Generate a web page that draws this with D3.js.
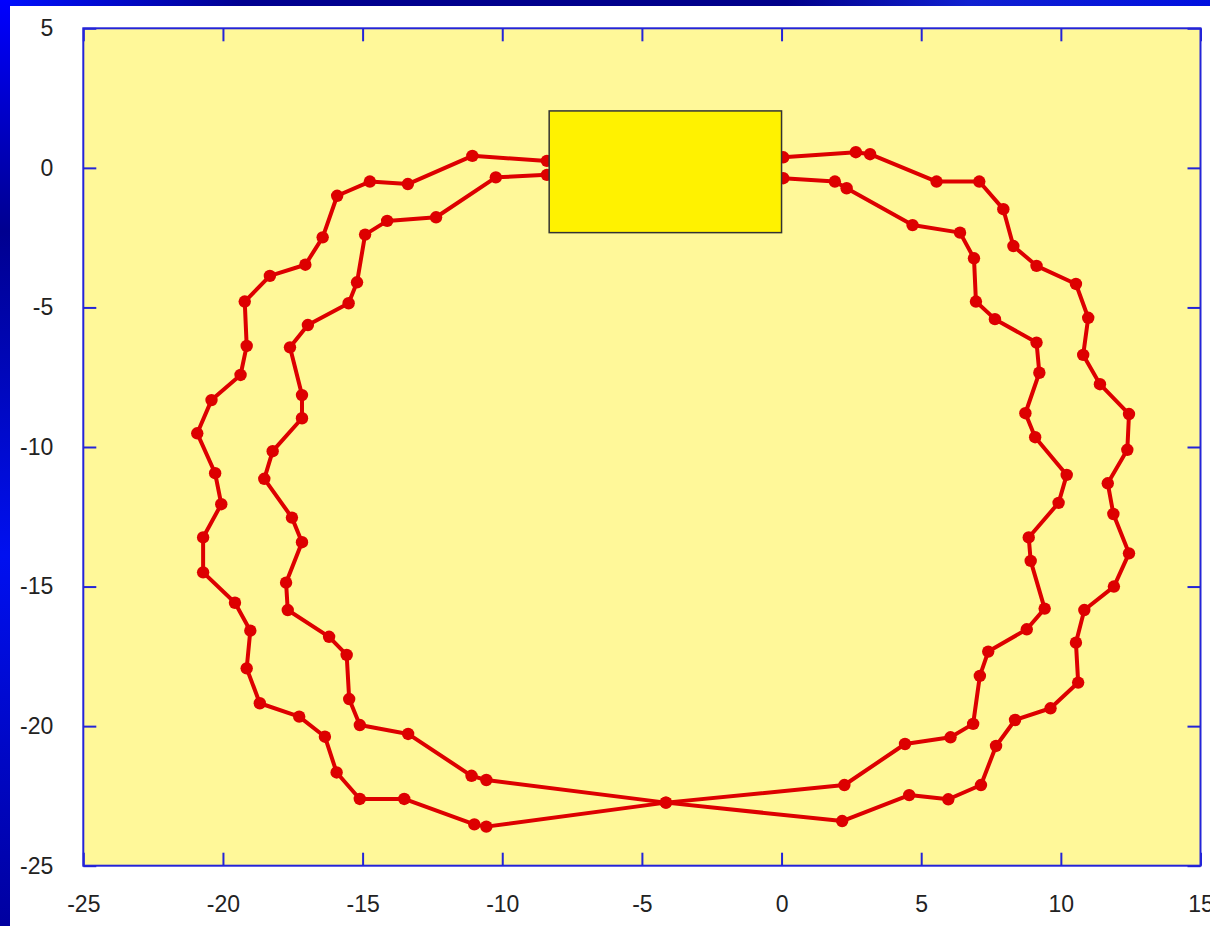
<!DOCTYPE html>
<html>
<head>
<meta charset="utf-8">
<script src="https://cdn.jsdelivr.net/npm/d3@7"></script>
<style>
  body { margin: 0; background: #fff; }
  svg { display: block; }
</style>
</head>
<body>
<svg id="chart" width="1210" height="926"></svg>
<script>
// path 1: leaves the box on the upper-left, crosses at the bottom, comes back lower-right
const pathA = [
  [-8.4, 0.25], [-11.07, 0.43], [-13.38, -0.58], [-14.74, -0.49], [-15.91, -1.0],
  [-16.43, -2.49], [-17.05, -3.47], [-18.32, -3.87], [-19.22, -4.79], [-19.15, -6.38],
  [-19.37, -7.42], [-20.41, -8.32], [-20.92, -9.51], [-20.28, -10.94], [-20.06, -12.05],
  [-20.71, -13.24], [-20.71, -14.49], [-19.57, -15.58], [-19.02, -16.58], [-19.15, -17.93],
  [-18.68, -19.18], [-17.27, -19.66], [-16.35, -20.38], [-15.93, -21.66], [-15.1, -22.61],
  [-13.51, -22.61], [-11.0, -23.52], [-10.57, -23.6], [-4.14, -22.74],
  [2.25, -22.11], [4.42, -20.64], [6.05, -20.4], [6.86, -19.92], [7.1, -18.2],
  [7.4, -17.33], [8.78, -16.53], [9.42, -15.79], [8.92, -14.08], [8.85, -13.24],
  [9.92, -12.0], [10.21, -11.0], [9.08, -9.65], [8.73, -8.79], [9.23, -7.34],
  [9.13, -6.26], [7.64, -5.42], [6.96, -4.79], [6.89, -3.24], [6.39, -2.32],
  [4.69, -2.05], [2.33, -0.73], [1.91, -0.49], [0.06, -0.37]
];

// path 2: leaves the box on the lower-left, crosses, comes back upper-right
const pathB = [
  [-8.4, -0.25], [-10.23, -0.34], [-12.37, -1.77], [-14.12, -1.9], [-14.91, -2.39],
  [-15.2, -4.1], [-15.5, -4.85], [-16.96, -5.63], [-17.6, -6.43], [-17.17, -8.14],
  [-17.17, -8.97], [-18.22, -10.15], [-18.52, -11.14], [-17.53, -12.53], [-17.17, -13.41],
  [-17.74, -14.86], [-17.68, -15.84], [-16.2, -16.8], [-15.57, -17.45], [-15.48, -19.03],
  [-15.1, -19.96], [-13.37, -20.28], [-11.1, -21.78], [-10.57, -21.93], [-4.14, -22.74],
  [2.17, -23.4], [4.57, -22.47], [5.97, -22.62], [7.14, -22.11], [7.68, -20.71],
  [8.36, -19.78], [9.63, -19.36], [10.62, -18.44], [10.54, -17.01], [10.84, -15.84],
  [11.9, -15.0], [12.44, -13.81], [11.88, -12.4], [11.68, -11.3], [12.38, -10.1],
  [12.44, -8.82], [11.4, -7.75], [10.8, -6.7], [10.98, -5.37], [10.54, -4.16],
  [9.13, -3.51], [8.3, -2.8], [7.94, -1.48], [7.08, -0.49], [5.55, -0.49],
  [3.17, 0.49], [2.66, 0.56], [0.06, 0.38]
];

const box = { x0: -8.32, x1: 0, y0: -2.32, y1: 2.04 };

const xTicks = [-25, -20, -15, -10, -5, 0, 5, 10, 15];
const yTicks = [5, 0, -5, -10, -15, -20, -25];

const RED = "#dd0000";
const FRAME = "#2424d8";

const svg = d3.select("#chart");
const width = 1210;
const height = 926;

// slide decoration: blue bars along the left and top
const defs = svg.append("defs");
const gTop = defs.append("linearGradient").attr("id", "topbar");
gTop.append("stop").attr("offset", "0%").attr("stop-color", "#0010ff");
gTop.append("stop").attr("offset", "20%").attr("stop-color", "#000090");
gTop.append("stop").attr("offset", "65%").attr("stop-color", "#00008a");
gTop.append("stop").attr("offset", "80%").attr("stop-color", "#1020d0");
gTop.append("stop").attr("offset", "100%").attr("stop-color", "#0010e0");
const gLeft = defs.append("linearGradient").attr("id", "leftbar")
  .attr("x1", 0).attr("y1", 0).attr("x2", 0).attr("y2", 1);
gLeft.append("stop").attr("offset", "0%").attr("stop-color", "#0000ff");
gLeft.append("stop").attr("offset", "25%").attr("stop-color", "#000090");
gLeft.append("stop").attr("offset", "60%").attr("stop-color", "#0010f0");
gLeft.append("stop").attr("offset", "100%").attr("stop-color", "#0000a0");

svg.append("rect").attr("x", 0).attr("y", 0).attr("width", width).attr("height", 6)
  .attr("fill", "url(#topbar)");
svg.append("rect").attr("x", 0).attr("y", 0).attr("width", 10).attr("height", height)
  .attr("fill", "url(#leftbar)");

const margin = { left: 83.3, top: 28.3, right: 1210 - 1200.5, bottom: 926 - 865.7 };
const x = d3.scaleLinear().domain([-25, 15]).range([margin.left, width - margin.right]);
const y = d3.scaleLinear().domain([-25, 5]).range([height - margin.bottom, margin.top]);

svg.append("rect")
  .attr("x", x(-25)).attr("y", y(5))
  .attr("width", x(15) - x(-25)).attr("height", y(-25) - y(5))
  .attr("fill", "#fff899");

// axes with ticks pointing inwards; plain hyphen for negatives like the original
const fmt = (d) => String(d);
const styleAxis = (g) => {
  g.select(".domain").remove();
  g.selectAll(".tick line").attr("stroke", FRAME).attr("stroke-width", 2);
  g.selectAll(".tick text")
    .attr("fill", "#222")
    .style("font-family", "'Liberation Sans', Arial, sans-serif")
    .style("font-size", "23px");
};

svg.append("g")
  .attr("transform", `translate(0,${y(-25)})`)
  .call(d3.axisBottom(x).tickValues(xTicks).tickFormat(fmt)
    .tickSizeInner(-13).tickSizeOuter(0).tickPadding(30))
  .call(styleAxis);

svg.append("g")
  .attr("transform", `translate(${x(-25)},0)`)
  .call(d3.axisLeft(y).tickValues(yTicks).tickFormat(fmt)
    .tickSizeInner(-13).tickSizeOuter(0).tickPadding(30))
  .call(styleAxis);

// mirrored ticks on the top and right edges
svg.append("g")
  .attr("transform", `translate(0,${y(5)})`)
  .call(d3.axisTop(x).tickValues(xTicks).tickSizeInner(-13).tickSizeOuter(0).tickFormat(""))
  .call(styleAxis);

svg.append("g")
  .attr("transform", `translate(${x(15)},0)`)
  .call(d3.axisRight(y).tickValues(yTicks).tickSizeInner(-13).tickSizeOuter(0).tickFormat(""))
  .call(styleAxis);

const line = d3.line().x((d) => x(d[0])).y((d) => y(d[1]));

const paths = svg.append("g");
[pathA, pathB].forEach((pts) => {
  paths.append("path")
    .datum(pts)
    .attr("d", line)
    .attr("fill", "none")
    .attr("stroke", RED)
    .attr("stroke-width", 4)
    .attr("stroke-linejoin", "round");

  paths.append("g")
    .selectAll("circle")
    .data(pts)
    .join("circle")
    .attr("cx", (d) => x(d[0]))
    .attr("cy", (d) => y(d[1]))
    .attr("r", 6.2)
    .attr("fill", RED);
});

svg.append("rect")
  .attr("x", x(box.x0)).attr("y", y(box.y1))
  .attr("width", x(box.x1) - x(box.x0))
  .attr("height", y(box.y0) - y(box.y1))
  .attr("fill", "#fff200")
  .attr("stroke", "#333")
  .attr("stroke-width", 1.5);

// plot frame
svg.append("rect")
  .attr("x", x(-25)).attr("y", y(5))
  .attr("width", x(15) - x(-25)).attr("height", y(-25) - y(5))
  .attr("fill", "none")
  .attr("stroke", FRAME)
  .attr("stroke-width", 2);
</script>
</body>
</html>
